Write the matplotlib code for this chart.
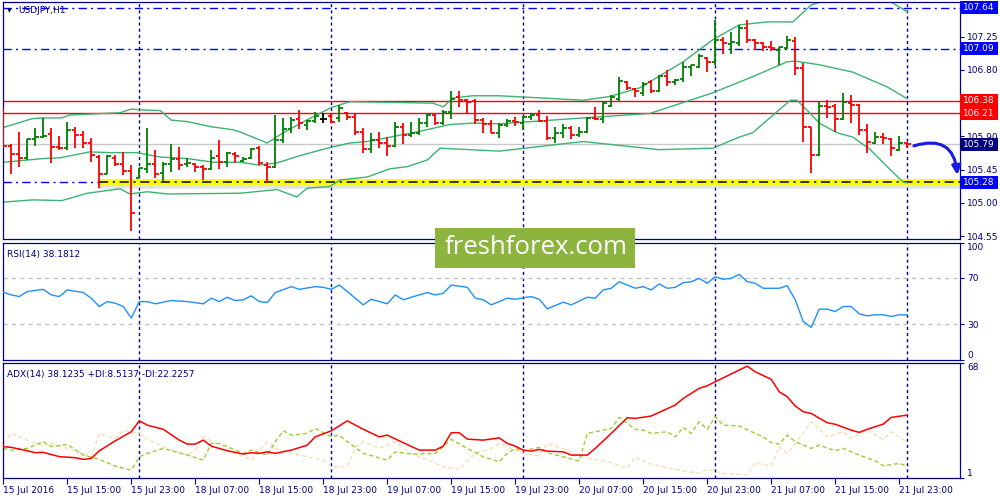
import numpy as np
import matplotlib
matplotlib.use("Agg")
import matplotlib.pyplot as plt
from matplotlib.patches import Rectangle
from matplotlib.transforms import blended_transform_factory

# ── Data (USDJPY H1, 15 Jul 07:00 .. 22 Jul 00:00) ───────────────────────────

opens = [
    106.23, 105.77, 105.66, 105.61, 105.87, 105.89, 105.93, 105.76, 105.74, 105.99,
    105.92, 105.81, 105.62, 105.39, 105.61, 105.53, 105.43, 105.34, 105.46, 105.53,
    105.41, 105.53, 105.60, 105.53, 105.53, 105.49, 105.46, 105.64, 105.55, 105.66,
    105.57, 105.61, 105.74, 105.51, 105.49, 105.85, 106.00, 106.14, 106.06, 106.11,
    106.14, 106.18, 106.15, 106.22, 106.16, 105.96, 105.73, 105.85, 105.81, 105.77,
    106.03, 105.92, 105.95, 106.08, 106.19, 106.08, 106.23, 106.44, 106.39, 106.38,
    106.12, 106.07, 105.95, 106.06, 106.11, 106.08, 106.16, 106.19, 106.11, 105.88,
    105.95, 106.02, 105.92, 105.96, 106.15, 106.14, 106.31, 106.41, 106.64, 106.54,
    106.49, 106.64, 106.52, 106.72, 106.64, 106.68, 106.84, 106.84, 106.96, 106.91,
    107.21, 107.15, 107.17, 107.37, 107.21, 107.17, 107.11, 107.07, 107.10, 107.19,
    106.83, 106.03, 105.65, 106.31, 106.31, 106.14, 106.35, 106.33, 105.99, 105.81,
    105.89, 105.87, 105.72, 105.81]
highs = [
    106.29, 105.80, 105.96, 105.87, 106.02, 106.15, 106.02, 105.91, 106.10, 106.03,
    105.97, 105.88, 105.65, 105.65, 105.65, 105.69, 105.51, 105.47, 106.02, 105.72,
    105.55, 105.80, 105.76, 105.61, 105.54, 105.51, 105.72, 105.85, 105.69, 105.69,
    105.62, 105.74, 105.77, 105.55, 106.19, 106.15, 106.16, 106.26, 106.12, 106.23,
    106.22, 106.22, 106.33, 106.23, 106.22, 106.02, 105.95, 105.96, 105.89, 106.10,
    106.08, 106.10, 106.15, 106.22, 106.22, 106.26, 106.52, 106.52, 106.41, 106.41,
    106.15, 106.12, 106.08, 106.14, 106.16, 106.18, 106.22, 106.26, 106.18, 106.03,
    106.07, 106.04, 106.03, 106.16, 106.30, 106.37, 106.46, 106.71, 106.65, 106.56,
    106.64, 106.67, 106.73, 106.80, 106.68, 106.91, 106.87, 107.02, 106.98, 107.48,
    107.24, 107.32, 107.41, 107.47, 107.22, 107.18, 107.19, 107.11, 107.26, 107.25,
    106.90, 106.03, 106.37, 106.39, 106.34, 106.49, 106.46, 106.34, 106.07, 105.96,
    105.95, 105.88, 105.91, 105.83]
lows = [
    105.74, 105.39, 105.49, 105.58, 105.77, 105.88, 105.54, 105.72, 105.72, 105.74,
    105.74, 105.55, 105.20, 105.39, 105.50, 105.38, 104.62, 105.34, 105.41, 105.34,
    105.30, 105.42, 105.45, 105.49, 105.42, 105.31, 105.45, 105.46, 105.49, 105.54,
    105.55, 105.60, 105.51, 105.27, 105.47, 105.81, 105.95, 106.00, 105.99, 106.08,
    106.08, 106.08, 106.10, 106.12, 105.92, 105.68, 105.68, 105.74, 105.64, 105.76,
    105.79, 105.89, 105.92, 106.03, 106.06, 106.06, 106.14, 106.30, 106.22, 106.07,
    105.95, 105.95, 105.88, 106.03, 106.04, 105.99, 106.12, 106.10, 105.85, 105.81,
    105.88, 105.87, 105.89, 105.95, 106.12, 106.08, 106.30, 106.38, 106.53, 106.44,
    106.45, 106.49, 106.50, 106.58, 106.60, 106.63, 106.72, 106.83, 106.77, 106.87,
    107.02, 107.02, 107.13, 107.17, 107.07, 107.06, 107.06, 106.87, 107.09, 106.73,
    105.83, 105.41, 105.64, 106.15, 105.96, 106.12, 106.08, 105.92, 105.68, 105.80,
    105.80, 105.64, 105.70, 105.74]
closes = [
    105.77, 105.66, 105.61, 105.87, 105.89, 105.91, 105.76, 105.74, 105.99, 105.92,
    105.81, 105.65, 105.39, 105.64, 105.53, 105.43, 104.86, 105.47, 105.53, 105.39,
    105.53, 105.60, 105.51, 105.54, 105.49, 105.46, 105.61, 105.55, 105.68, 105.64,
    105.60, 105.73, 105.54, 105.49, 105.85, 106.00, 106.12, 106.08, 106.11, 106.18,
    106.14, 106.10, 106.29, 106.16, 105.96, 105.73, 105.85, 105.81, 105.77, 106.03,
    105.92, 105.95, 106.08, 106.19, 106.08, 106.23, 106.41, 106.39, 106.37, 106.12,
    106.07, 105.95, 106.06, 106.11, 106.10, 106.16, 106.19, 106.11, 105.88, 105.95,
    106.02, 105.92, 105.96, 106.15, 106.14, 106.35, 106.44, 106.65, 106.56, 106.52,
    106.61, 106.52, 106.72, 106.64, 106.67, 106.84, 106.86, 106.99, 106.91, 107.21,
    107.17, 107.18, 107.37, 107.21, 107.17, 107.11, 107.10, 107.11, 107.21, 106.83,
    106.03, 105.65, 106.31, 106.30, 106.14, 106.37, 106.33, 105.99, 105.83, 105.89,
    105.88, 105.74, 105.81, 105.79]

# Bollinger bands (bar index, price)
bb_up_idx = [0, 3.6, 5, 7.3, 8.3, 14.6, 16, 17, 19.6, 21, 23, 26, 28.7, 29.6, 33, 35,
             37.9, 41, 43.3, 53.7, 55, 56.2, 58.7, 62, 72.5, 75.8, 79.6, 85, 88.7, 92,
             95.5, 98.7, 101, 104, 110, 113]
bb_up_val = [106.02, 106.14, 106.15, 106.15, 106.19, 106.22, 106.27, 106.26, 106.25,
             106.12, 106.10, 106.03, 105.99, 105.96, 105.81, 105.95, 106.12, 106.29,
             106.37, 106.35, 106.30, 106.42, 106.45, 106.45, 106.39, 106.44, 106.56,
             106.91, 107.21, 107.41, 107.45, 107.45, 107.68, 107.78, 107.78, 107.59]
bb_mid_idx = [0, 2.1, 5, 7.1, 10.8, 13.3, 16.7, 19.6, 23, 26.2, 29.6, 32, 34.2, 37.1,
              40.5, 43.3, 45.5, 51.7, 55.8, 58.7, 62, 72.5, 80.8, 88.7, 89.6, 93.7, 98,
              99, 102, 106.2, 110.5, 113]
bb_mid_val = [105.55, 105.57, 105.60, 105.61, 105.69, 105.68, 105.68, 105.62, 105.60,
              105.55, 105.55, 105.51, 105.54, 105.64, 105.74, 105.81, 105.83, 105.96,
              106.06, 106.08, 106.07, 106.15, 106.21, 106.49, 106.53, 106.71, 106.91,
              106.92, 106.87, 106.77, 106.57, 106.41]
bb_low_idx = [0, 3.7, 7.3, 10.5, 14.6, 15.8, 18, 20.5, 29.6, 34.2, 36.7, 38, 40.8, 42.1,
              45.5, 48.3, 50.5, 53, 54.6, 62, 69.2, 72.5, 82, 88.7, 92, 93.7, 95.5, 98.4,
              99.2, 100.8, 102, 104.2, 106.2, 108.4, 110.5, 112.5, 113]
bb_low_val = [105.01, 105.04, 105.03, 105.13, 105.19, 105.12, 105.15, 105.12, 105.13,
              105.18, 105.08, 105.20, 105.22, 105.31, 105.35, 105.46, 105.49, 105.58,
              105.74, 105.70, 105.79, 105.83, 105.72, 105.74, 105.89, 105.95, 106.12,
              106.39, 106.39, 106.22, 106.08, 105.95, 105.89, 105.72, 105.49, 105.28,
              105.27]

# RSI(14)
rsi_idx = [0, 1, 2, 3, 5, 6, 7, 8, 10, 11, 12, 13, 14, 15, 16, 17, 18, 19, 21, 23, 25,
           26, 27, 28, 29, 30, 31, 32, 33, 34, 36, 37, 39, 40, 41, 42, 43, 45, 46, 48,
           49, 50, 51, 53, 54, 55, 56, 58, 59, 60, 61, 62, 63, 64, 66, 67, 68, 70, 71,
           73, 74, 75, 76, 77, 79, 80, 81, 82, 83, 84, 85, 86, 87, 88, 89, 90, 91, 92,
           93, 94, 95, 97, 98, 99, 100, 101, 102, 103, 104, 105, 106, 107, 108, 109,
           110, 111, 112, 113]
rsi_val = [57.6, 55.3, 53.9, 58.2, 60.1, 55.3, 53.9, 59.6, 57.3, 52.5, 45.4, 49.6, 48.2,
           45.4, 35.5, 49.6, 49.6, 47.7, 50.5, 49.6, 47.7, 52.5, 49.6, 53.3, 50.5, 51.1,
           54.5, 49.6, 48.8, 57.3, 62.4, 60.1, 62.4, 61.8, 60.1, 63.8, 58.2, 46.8, 51.6,
           47.7, 55.3, 51.1, 53.3, 57.3, 55.3, 56.7, 63.8, 61.8, 52.5, 51.1, 46.8, 49.6,
           52.5, 51.6, 53.9, 51.6, 43.4, 49.1, 46.8, 53.3, 52.5, 59.6, 61.0, 66.6, 61.0,
           62.4, 59.6, 64.7, 61.0, 61.8, 65.8, 66.6, 69.5, 65.3, 70.9, 68.7, 69.5, 72.9,
           66.6, 65.3, 61.0, 61.0, 63.2, 51.1, 32.6, 27.5, 43.1, 43.1, 41.1, 45.4, 45.4,
           39.1, 37.4, 38.3, 38.3, 36.9, 38.3, 38.18]

# ADX(14), +DI, -DI
adx_idx = [0, 1, 3, 4, 5, 7, 9, 10, 11, 12, 14, 16, 17, 18, 20, 22, 23, 24, 25, 26, 28,
           30, 31, 32, 33, 34, 36, 38, 39, 41, 43, 45, 47, 48, 50, 52, 54, 55, 56, 57, 58,
           60, 62, 63, 64, 65, 66, 67, 68, 70, 71, 73, 74, 76, 78, 79, 81, 84, 85, 87,
           88, 93, 94, 96, 97, 98, 99, 100, 101, 103, 104, 106, 107, 108, 110, 111, 113]
adx_val = [19.8, 19.4, 17.4, 16.3, 16.5, 14.0, 13.4, 12.4, 13.0, 17.4, 23.2, 28.5, 34.8,
           32.3, 29.9, 23.6, 21.3, 21.3, 23.6, 20.1, 17.4, 15.5, 16.3, 15.9, 16.8, 15.9,
           17.8, 20.7, 25.5, 29.0, 34.8, 29.9, 25.5, 26.5, 22.1, 17.8, 17.8, 20.1, 27.9,
           27.9, 24.2, 23.6, 24.9, 21.7, 20.1, 17.8, 17.2, 18.2, 17.2, 16.8, 14.9, 14.9,
           18.8, 27.5, 36.6, 36.2, 37.6, 44.0, 47.8, 53.7, 55.2, 66.6, 63.3, 58.9, 51.7,
           48.8, 43.4, 40.1, 39.1, 33.7, 32.8, 29.4, 28.1, 29.9, 32.9, 36.8, 38.12]
pdi_idx = [0, 1, 3, 5, 6, 8, 10, 12, 14, 16, 17, 18, 20, 23, 25, 26, 27, 30, 31, 33, 34,
           35, 36, 38, 39, 41, 42, 43, 45, 48, 49, 51, 54, 56, 58, 60, 62, 63, 64, 65,
           67, 68, 70, 72, 73, 74, 76, 77, 79, 80, 81, 83, 84, 85, 86, 87, 88, 89, 90,
           92, 94, 95, 96, 97, 98, 99, 101, 102, 104, 105, 107, 109, 110, 112, 113]
pdi_val = [18.8, 17.8, 18.8, 22.7, 19.8, 21.1, 14.9, 12.4, 8.5, 6.2, 13.9, 15.9, 18.8,
           14.9, 12.0, 21.7, 21.7, 15.9, 17.8, 14.9, 22.7, 29.0, 26.5, 27.5, 30.4, 25.5,
           26.5, 22.7, 15.9, 12.0, 16.8, 15.5, 15.9, 24.0, 18.8, 13.9, 11.0, 15.9, 18.8,
           17.4, 19.4, 16.3, 13.9, 11.4, 27.5, 28.5, 30.4, 36.8, 29.9, 29.4, 27.5, 28.5,
           25.5, 31.0, 27.5, 34.2, 29.9, 37.2, 32.3, 31.8, 27.5, 25.5, 22.1, 21.3, 26.5,
           22.7, 18.8, 20.7, 17.4, 18.8, 14.9, 11.6, 8.7, 10.1, 8.51]
mdi_idx = [0, 1, 3, 5, 6, 10, 11, 12, 14, 15, 17, 18, 20, 23, 24, 25, 27, 29, 31, 33,
           34, 36, 38, 40, 41, 43, 44, 45, 47, 49, 51, 53, 55, 57, 59, 61, 62, 65, 67,
           68, 70, 72, 74, 76, 78, 79, 81, 84, 87, 88, 90, 93, 94, 96, 97, 98, 100, 101,
           102, 103, 105, 106, 108, 110, 111, 113]
mdi_val = [21.7, 27.5, 23.6, 20.1, 21.7, 15.9, 13.9, 27.5, 24.6, 29.4, 27.5, 24.0, 19.8,
           14.9, 17.8, 25.5, 20.7, 15.9, 12.0, 22.7, 18.8, 15.9, 13.9, 12.0, 8.1, 8.1,
           19.8, 22.7, 18.8, 22.7, 15.9, 12.0, 8.1, 6.6, 15.9, 18.8, 21.5, 15.9, 14.4,
           21.7, 18.8, 14.4, 12.4, 10.5, 7.2, 13.6, 9.7, 6.6, 4.3, 6.6, 4.3, 3.3, 10.5,
           8.5, 19.8, 15.9, 27.5, 34.2, 30.4, 25.5, 28.5, 24.6, 29.4, 24.0, 28.5, 22.23]

tick_bars = list(range(0, 113, 8))
tick_labels = ["15 Jul 2016", "15 Jul 15:00", "15 Jul 23:00", "18 Jul 07:00",
               "18 Jul 15:00", "18 Jul 23:00", "19 Jul 07:00", "19 Jul 15:00",
               "19 Jul 23:00", "20 Jul 07:00", "20 Jul 15:00", "20 Jul 23:00",
               "21 Jul 07:00", "21 Jul 15:00", "21 Jul 23:00"]
day_breaks = [17, 41, 65, 89, 113]

price_ticks = [104.55, 105.00, 105.45, 105.90, 106.80, 107.25]
levels_blue = [107.64, 107.09, 105.28]
levels_red = [106.38, 106.21]
last_price = 105.79
support = 105.28
support_start = 12

# ── Style ────────────────────────────────────────────────────────────────────

NAVY = "#000080"
UP, DOWN = "#008000", "#ff0000"
BB = "#3cb371"
BLUE = "#0000ff"
FS = 6.5
plt.rcParams["font.family"] = ["DejaVu Sans"]

fig = plt.figure(figsize=(10, 5), dpi=100)
fig.patch.set_facecolor("white")

def px_axes(x0, y0, x1, y1):
    return fig.add_axes([x0 / 1000, 1 - y1 / 500, (x1 - x0) / 1000, (y1 - y0) / 500])

ax_p = px_axes(3, 2, 960, 239)
ax_r = px_axes(3, 242.5, 960, 359.5)
ax_a = px_axes(3, 363, 960, 478)

XLIM = (-0.04, 119.6)
for ax in (ax_p, ax_r, ax_a):
    ax.set_xlim(*XLIM)
    for sp in ax.spines.values():
        sp.set_color(NAVY)
        sp.set_linewidth(0.9)
    ax.yaxis.tick_right()
    ax.tick_params(axis="y", direction="out", length=3, width=0.8, color=NAVY,
                   labelsize=FS, labelcolor=NAVY, pad=2)
    ax.tick_params(axis="x", bottom=False, labelbottom=False)
    for d in day_breaks:
        ax.axvline(d, color=NAVY, lw=1.0, ls=(0, (2.2, 2.2)), zorder=1)

# ── Price panel ──────────────────────────────────────────────────────────────

ax_p.set_ylim(104.51, 107.72)
ax_p.set_yticks(price_ticks)
ax_p.set_yticklabels([f"{v:.2f}" for v in price_ticks])

for lv in levels_blue:
    ax_p.axhline(lv, color=BLUE, lw=1.0, ls=(0, (6, 3, 1.5, 3)), zorder=1)
for lv in levels_red:
    ax_p.axhline(lv, color=DOWN, lw=1.0, zorder=1)
ax_p.axhline(last_price, color="#c8c8c8", lw=1.0, zorder=1)

# yellow highlighted support with soft shadow
ax_p.plot([support_start, XLIM[1]], [support - 0.05, support - 0.05],
          color="#b0b0b0", lw=4, alpha=0.35, solid_capstyle="butt", zorder=1.5)
ax_p.plot([support_start, XLIM[1]], [support, support],
          color="#ffff00", lw=4.2, solid_capstyle="butt", zorder=1.6)
ax_p.plot([support_start, XLIM[1]], [support, support],
          color="black", lw=1.1, ls=(0, (6, 3, 1.5, 3)), zorder=1.7)

ax_p.plot(bb_up_idx, bb_up_val, color=BB, lw=1.0, zorder=2)
ax_p.plot(bb_mid_idx, bb_mid_val, color=BB, lw=1.0, zorder=2)
ax_p.plot(bb_low_idx, bb_low_val, color=BB, lw=1.0, zorder=2)

o, h, l, c = map(np.array, (opens, highs, lows, closes))
xb = np.arange(len(o))
cols = np.where(c > o, UP, np.where(c < o, DOWN, "black"))
ax_p.vlines(xb, l, h, colors=cols, lw=1.3, zorder=3)
ax_p.hlines(o, xb - 0.42, xb, colors=cols, lw=1.3, zorder=3)
ax_p.hlines(c, xb, xb + 0.42, colors=cols, lw=1.3, zorder=3)

ax_p.text(0.004, 0.965, "\u25bc", transform=ax_p.transAxes, fontsize=4.5,
          color=NAVY, va="center", ha="left")
ax_p.text(0.016, 0.965, "USDJPY,H1", transform=ax_p.transAxes, fontsize=FS,
          color=NAVY, va="center", ha="left")

# price boxes on the right scale
tr = blended_transform_factory(ax_p.transAxes, ax_p.transData)
box_h = 0.176
boxes = [(107.64, BLUE), (107.09, BLUE), (106.38, DOWN), (106.21, DOWN),
         (last_price, NAVY), (support, BLUE)]
for val, col in boxes:
    ax_p.add_patch(Rectangle((1.0, val - box_h / 2), 0.0397, box_h, transform=tr,
                             facecolor=col, edgecolor="none", clip_on=False, zorder=6))
    ax_p.text(1.0035, val, f"{val:.2f}", transform=tr, fontsize=FS, color="white",
              va="center", ha="left", zorder=7, clip_on=False)

# hand-drawn style arrow towards support
ax_p.annotate("", xy=(119.3, 105.34), xytext=(113.5, 105.76),
              arrowprops=dict(arrowstyle="-|>", connectionstyle="arc3,rad=-0.65",
                              color="#1a1ae6", lw=2.2, mutation_scale=13),
              annotation_clip=False, zorder=8)

# ── RSI panel ────────────────────────────────────────────────────────────────

ax_r.set_ylim(0.2, 100.2)
for lv in (70, 30):
    ax_r.axhline(lv, color="#c0c0c0", lw=1.0, ls=(0, (3, 3)), zorder=1)
ax_r.plot(rsi_idx, rsi_val, color="#1e90ff", lw=1.0, zorder=3)
ax_r.set_yticks([100, 70, 30, 0])
ax_r.set_yticklabels(["100", "70", "30", "0"])
ax_r.get_yticklabels()[0].set_va("top")
ax_r.get_yticklabels()[3].set_va("bottom")
ax_r.text(0.004, 0.9, "RSI(14) 38.1812", transform=ax_r.transAxes, fontsize=FS,
          color=NAVY, va="center", ha="left")

# ── ADX panel ────────────────────────────────────────────────────────────────

ax_a.set_ylim(1.6, 68.4)
ax_a.plot(mdi_idx, mdi_val, color="#f5deb3", lw=1.0, ls=(0, (3, 2)), zorder=2)
ax_a.plot(pdi_idx, pdi_val, color="#9acd32", lw=1.0, ls=(0, (3, 2)), zorder=2.5)
ax_a.plot(adx_idx, adx_val, color="#ff0000", lw=1.1, zorder=3)
ax_a.set_yticks([68.4, 1.6])
ax_a.set_yticklabels(["68", "1"])
ax_a.get_yticklabels()[0].set_va("top")
ax_a.get_yticklabels()[1].set_va("bottom")
ax_a.text(0.004, 0.9, "ADX(14) 38.1235 +DI:8.5137 -DI:22.2257", transform=ax_a.transAxes,
          fontsize=FS, color=NAVY, va="center", ha="left")

ax_a.tick_params(axis="x", bottom=True, labelbottom=True, direction="out", length=4,
                 width=0.8, color=NAVY, labelsize=FS, labelcolor=NAVY, pad=2)
ax_a.set_xticks(tick_bars)
ax_a.set_xticklabels(tick_labels, ha="left")

# ── Watermark ────────────────────────────────────────────────────────────────

fig.add_artist(Rectangle((435 / 1000, 1 - 268 / 500), 200 / 1000, 40 / 500,
                         transform=fig.transFigure, facecolor="#8db43e",
                         edgecolor="none", zorder=10))
fig.text(536 / 1000, 1 - 248 / 500, "freshforex.com", fontsize=18.5, color="white",
         family=["Open Sans", "DejaVu Sans"], ha="center", va="center", zorder=11)

fig.savefig("out.png", dpi=100, facecolor="white")
